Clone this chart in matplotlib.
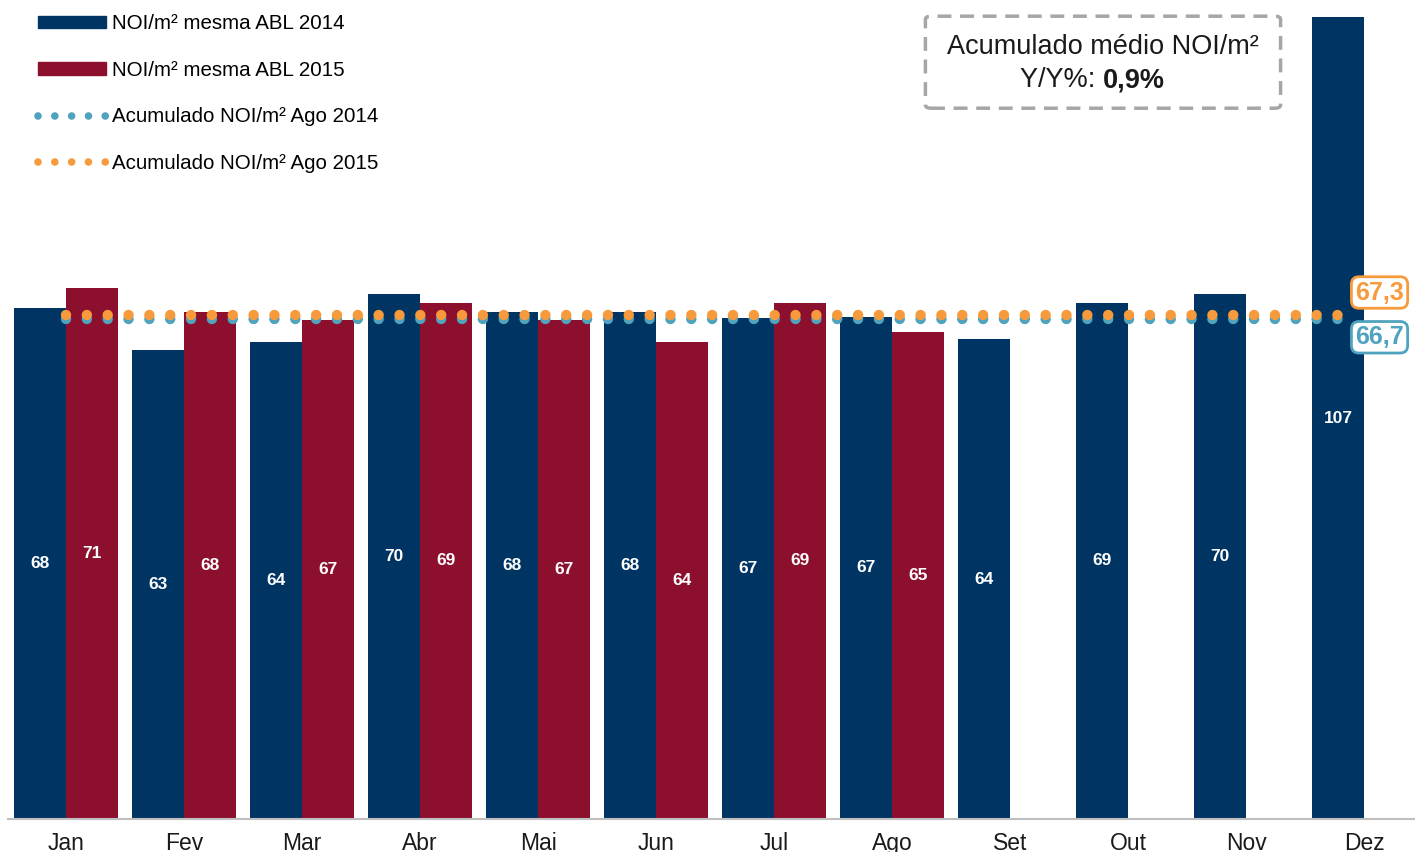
import matplotlib.pyplot as plt
from matplotlib.lines import Line2D
from matplotlib.patches import Patch, FancyBboxPatch

plt.rcParams['font.family'] = ['Liberation Sans', 'DejaVu Sans']

# Data
months = ['Jan', 'Fev', 'Mar', 'Abr', 'Mai', 'Jun', 'Jul', 'Ago', 'Set', 'Out', 'Nov', 'Dez']
noi_2014 = [68.2, 62.6, 63.6, 70.0, 67.6, 67.6, 66.8, 67.0, 64.0, 68.9, 70.0, 107.0]
noi_2015 = [70.9, 67.6, 66.6, 68.9, 66.6, 63.6, 68.9, 65.0]
acum_2014 = 66.7
acum_2015 = 67.3
yoy_text = '0,9%'

navy = '#003463'
crimson = '#8C0F2E'
blue_dot = '#4FA3BE'
orange_dot = '#F79A3C'

fig = plt.figure(figsize=(14.15, 8.52), dpi=100)
ax = fig.add_axes([0.0057, 0.0387, 0.9943, 0.9613])

w = 0.44
x14 = [i - w / 2 for i in range(len(noi_2014))]
x15 = [i + w / 2 for i in range(len(noi_2015))]
ax.bar(x14, noi_2014, width=w, color=navy, zorder=2)
ax.bar(x15, noi_2015, width=w, color=crimson, zorder=2)

for x, v in zip(x14, noi_2014):
    ax.text(x, v / 2, f'{round(v)}', color='white', ha='center', va='center',
            fontsize=12.5, fontweight='bold', zorder=4)
for x, v in zip(x15, noi_2015):
    ax.text(x, v / 2, f'{round(v)}', color='white', ha='center', va='center',
            fontsize=12.5, fontweight='bold', zorder=4)

# accumulated average lines (dotted)
line_x = [0, 10.8]
dots = dict(lw=7.5, linestyle=(0, (0.001, 2.0)), dash_capstyle='round', zorder=3)
ax.plot(line_x, [acum_2014, acum_2014], color=blue_dot, **dots)
ax.plot(line_x, [acum_2015, acum_2015], color=orange_dot, **dots)

ax.annotate(f'{acum_2015:.1f}'.replace('.', ','), xy=(line_x[1], acum_2015),
            xytext=(28, 16), textcoords='offset points', ha='center', va='center',
            fontsize=18, fontweight='bold', color=orange_dot, zorder=5,
            bbox=dict(boxstyle='round,pad=0.15,rounding_size=0.3', fc='white',
                      ec=orange_dot, lw=2))
ax.annotate(f'{acum_2014:.1f}'.replace('.', ','), xy=(line_x[1], acum_2014),
            xytext=(28, -13), textcoords='offset points', ha='center', va='center',
            fontsize=18, fontweight='bold', color=blue_dot, zorder=5,
            bbox=dict(boxstyle='round,pad=0.15,rounding_size=0.3', fc='white',
                      ec=blue_dot, lw=2))

ax.set_xlim(-0.49, 11.43)
ax.set_ylim(0, 109.3)
ax.set_xticks(range(len(months)))
ax.set_xticklabels(months, fontsize=16.5, color='#1a1a1a')
ax.tick_params(axis='x', length=0, pad=9)
ax.set_yticks([])
for s in ['top', 'right', 'left']:
    ax.spines[s].set_visible(False)
ax.spines['bottom'].set_color('#BFBFBF')
ax.spines['bottom'].set_linewidth(1.5)

handles = [
    Patch(color=navy, label='NOI/m² mesma ABL 2014'),
    Patch(color=crimson, label='NOI/m² mesma ABL 2015'),
    Line2D([], [], color=blue_dot, lw=5.5, linestyle=(0, (0.001, 2.2)),
           dash_capstyle='round', label='Acumulado NOI/m² Ago 2014'),
    Line2D([], [], color=orange_dot, lw=5.5, linestyle=(0, (0.001, 2.2)),
           dash_capstyle='round', label='Acumulado NOI/m² Ago 2015'),
]
ax.legend(handles=handles, loc='upper left', bbox_to_anchor=(0.011, 1.0),
          frameon=False, fontsize=14.8, handlelength=3.3, handleheight=0.55,
          labelspacing=1.34, handletextpad=0.3, borderaxespad=0.3)

# summary box
box = FancyBboxPatch((0.654, 0.873), 0.251, 0.108, transform=fig.transFigure,
                     boxstyle='round,pad=0,rounding_size=0.004', fc='white',
                     ec='#A6A6A6', lw=2.5, linestyle=(0, (4, 2.5)), zorder=5)
fig.patches.append(box)
fig.text(0.7795, 0.945, 'Acumulado médio NOI/m²', ha='center', va='center',
         fontsize=19.5, color='#1a1a1a', zorder=6)
fig.text(0.7795, 0.906, 'Y/Y%: ', ha='right', va='center', fontsize=19.5,
         color='#1a1a1a', zorder=6)
fig.text(0.7795, 0.906, yoy_text, ha='left', va='center', fontsize=19.5,
         fontweight='bold', color='#1a1a1a', zorder=6)

fig.savefig('out.png', dpi=100)
